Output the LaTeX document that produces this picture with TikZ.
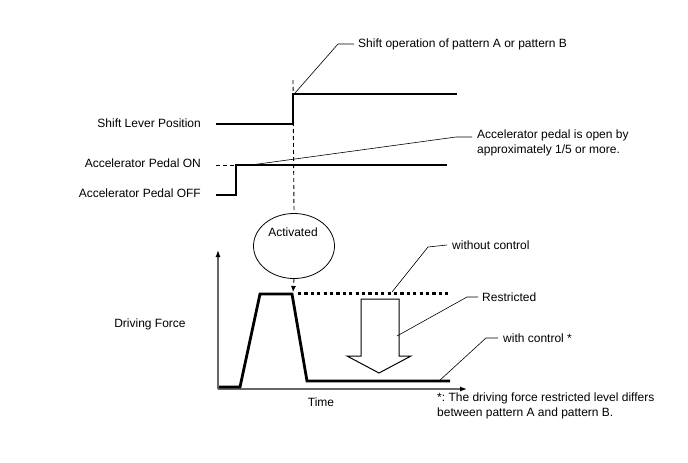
\documentclass[tikz,border=0pt]{standalone}
\usepackage{fontspec}
\setmainfont{Liberation Sans}
\usetikzlibrary{arrows.meta,shapes.geometric}
\frenchspacing
\begin{document}
\begin{tikzpicture}[x=1pt,y=-1pt,
  lbl/.style={font=\fontsize{12}{14.5}\selectfont,inner sep=0pt},
  sig/.style={line width=2.8pt,line join=miter},
  lead/.style={line width=0.6pt},
  axis/.style={line width=1.2pt,draw=black!60,-{Latex[length=7pt,width=5pt,black]}},
  dsh/.style={line width=0.9pt,dash pattern=on 4pt off 3pt}]
\useasboundingbox (0,0) rectangle (688,463);
% left labels
\node[lbl,anchor=east] (lsl) at (201,123) {Shift Lever Position};
\node[lbl,anchor=east] (lon) at (201,163) {Accelerator Pedal ON};
\node[lbl,anchor=east] (loff) at (201,193) {Accelerator Pedal OFF};
% shift lever signal
\coordinate (s0) at (216,124);
\coordinate (s1) at (293,124);
\coordinate (s2) at (293,94);
\coordinate (s3) at (457,94);
\draw[sig] (s0) -- (s1) -- (s2) -- (s3);
% accelerator signal
\coordinate (a0) at (216,195);
\coordinate (a1) at (236,195);
\coordinate (a2) at (236,165);
\coordinate (a3) at (447,165);
\coordinate (ad) at (216,165);
\draw[dsh] (ad) -- (a2);
\draw[sig] (a0) -- (a1) -- (a2) -- (a3);
% shift leader
\node[lbl,anchor=west] (tshift) at (358,44) {Shift operation of pattern A or pattern B};
\coordinate (ls1) at (295,93);
\coordinate (ls2) at (338,44);
\draw[lead] (ls1) -- (ls2) -- ([xshift=-4pt]tshift.west);
% accel leader
\node[lbl,anchor=north west,align=left] (tacc) at (477,130) {Accelerator pedal is open by\\approximately 1/5 or more.};
\coordinate (la1) at (251,165);
\coordinate (la2) at (456,137);
\coordinate (la3) at (472,137);
\draw[lead] (la1) -- (la2) -- (la3);
% ellipse
\node[draw,ellipse,line width=0.8pt,minimum width=81pt,minimum height=65pt,inner sep=0pt] (act) at (294,246) {};
\node[lbl] (tact) at (293,232) {Activated};
\coordinate (dv0) at (293,80);
\draw[dsh] (dv0) -- (act.north);
\coordinate (dv1) at (293,292);
\draw[dsh,-{Latex[length=6pt,width=5pt]}] (act.south) -- (dv1);
% axes
\coordinate (org) at (218,389);
\coordinate (ytop) at (218,250);
\coordinate (xend) at (467,389);
\draw[axis] (org) -- (ytop);
\draw[axis] (org) -- (xend);
\node[lbl] (ttime) at (321,402) {Time};
\node[lbl] (tdf) at (150,324) {Driving Force};
% force curve
\coordinate (f0) at (219,387);
\coordinate (f1) at (240,387);
\coordinate (f2) at (260,294);
\coordinate (f3) at (292,294);
\coordinate (f4) at (307,381);
\coordinate (f5) at (450,381);
\draw[sig] (f0) -- (f1) -- (f2) -- (f3) -- (f4) -- (f5);
% dotted without control
\coordinate (d0) at (298,293);
\coordinate (d1) at (450,293);
\draw[line width=3pt,dash pattern=on 3.2pt off 3.2pt] (d0) -- (d1);
% big arrow
\draw[line width=1pt,line join=miter,fill=white] (361,299) -- (399,299) -- (399,356) -- (411,356) -- (379,373) -- (347,356) -- (361,356) -- cycle;
% leaders
\node[lbl,anchor=west] (twc) at (452,245) {without control};
\coordinate (w1) at (392,292);
\coordinate (w2) at (428,247);
\draw[lead] (w1) -- (w2) -- ([xshift=-5pt]twc.west);
\node[lbl,anchor=west] (tres) at (482,297) {Restricted};
\coordinate (r1) at (397,336);
\coordinate (r2) at (467,297);
\draw[lead] (r1) -- (r2) -- ([xshift=-4pt]tres.west);
\node[lbl,anchor=west] (twith) at (503,338) {with control *};
\coordinate (c1) at (439,381);
\coordinate (c2) at (486,338);
\draw[lead] (c1) -- (c2) -- ([xshift=-5pt]twith.west);
% footnote
\node[lbl,anchor=north west,align=left] (tfoot) at (437,393) {*: The driving force restricted level differs\\between pattern A and pattern B.};
\end{tikzpicture}
\end{document}
